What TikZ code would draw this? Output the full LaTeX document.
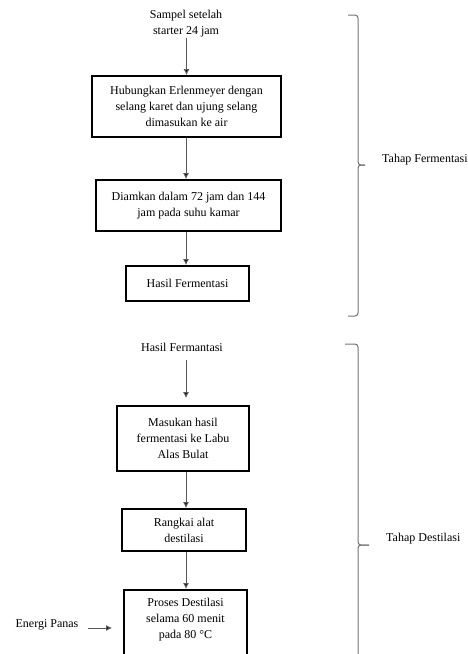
\documentclass[tikz,border=0pt]{standalone}
\usepackage{fontspec}
\setmainfont{Liberation Serif}
\usetikzlibrary{arrows.meta}
\begin{document}
\begin{tikzpicture}[x=1pt,y=-1pt,
  box/.style={draw=black, line width=1.8pt, inner sep=0pt, align=center, font=\fontsize{12}{16}\selectfont},
  txt/.style={inner sep=0pt, align=center, font=\fontsize{12}{16}\selectfont},
  arr/.style={draw=black!65, line width=1pt, -{Latex[length=6pt,width=6pt,fill=black]}},
  brace/.style={draw=black!55, line width=1pt, rounded corners=3pt}]
\useasboundingbox (0,0) rectangle (467,654);
\clip (0,0) rectangle (467,654);
% Fermentation stage
\node[txt] (s) at (186,24) {Sampel setelah\\starter 24 jam};
\node[box, minimum width=189pt, minimum height=61pt] (b1) at (186.5,106.5)
  {Hubungkan Erlenmeyer dengan\\selang karet dan ujung selang\\dimasukan ke air};
\node[box, minimum width=185pt, minimum height=51pt] (b2) at (188.5,205.5)
  {Diamkan dalam 72 jam dan 144\\jam pada suhu kamar};
\node[box, minimum width=123pt, minimum height=35pt] (b3) at (187.5,283.5)
  {Hasil Fermentasi};
\draw[arr] (s.south -| b1.north) -- (b1.north);
\draw[arr] ([xshift=-0.5pt]b1.south) -- ([xshift=-0.5pt]b1.south |- b2.north);
\draw[arr] ([xshift=-0.5pt]b2.south -| b1.south) -- ([xshift=-0.5pt]b1.south |- b3.north);
% Distillation stage
\node[txt] (h) at (182,347) {Hasil Fermantasi};
\node[box, minimum width=132pt, minimum height=65pt] (b4) at (183,438.5)
  {Masukan hasil\\fermentasi  ke Labu\\Alas Bulat};
\node[box, minimum width=124pt, minimum height=42pt] (b5) at (184,530)
  {Rangkai alat\\destilasi};
\node[box, minimum width=123pt, minimum height=90pt, anchor=north] (b6) at (185.5,589) {};
\node[txt] (t6) at (185.5,620) {Proses Destilasi\\selama 60 menit\\pada 80 °C};
\node[txt] (ep) at (47,625) {Energi Panas};
\draw[arr, shorten <=9pt, shorten >=7pt] ([xshift=3pt]h.south -| b4.north) -- ([xshift=3pt]b4.north);
\draw[arr] ([xshift=3pt]b4.south) -- ([xshift=3pt]b4.south |- b5.north);
\draw[arr] ([xshift=2pt]b5.south) -- ([xshift=2pt]b5.south |- b6.north);
\draw[arr, shorten <=9pt, shorten >=11pt] ([yshift=-3pt]ep.east) -- ([yshift=-3pt]ep.east -| b6.west);
% Braces
\draw[brace] (348,15) -| (358,165) -- (365,165);
\draw[brace] (348,316) -| (358,165) -- (365,165);
\node[txt, anchor=west] (tf) at (382,160) {Tahap Fermentasi};
\draw[brace] (345,344) -| (358,545) -- (369,545);
\draw[brace] (345,746) -| (358,545) -- (369,545);
\node[txt, anchor=west] (td) at (386,539) {Tahap Destilasi};
\end{tikzpicture}
\end{document}
